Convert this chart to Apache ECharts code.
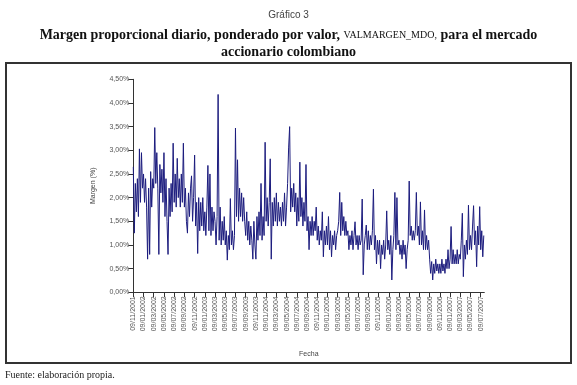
<!DOCTYPE html>
<html>
<head>
<meta charset="utf-8">
<script src="https://cdn.jsdelivr.net/npm/echarts@6/dist/echarts.min.js"></script>
<style>
html,body{margin:0;padding:0;background:#fff;}
#c{width:577px;height:385px;}
</style>
</head>
<body>
<div id="c"></div>
<script>
// Tick labels of the date axis (one every two months)
const xTickLabels = [
 "09/11/2001",
 "09/01/2002","09/03/2002","09/05/2002","09/07/2002","09/09/2002","09/11/2002",
 "09/01/2003","09/03/2003","09/05/2003","09/07/2003","09/09/2003","09/11/2003",
 "09/01/2004","09/03/2004","09/05/2004","09/07/2004","09/09/2004","09/11/2004",
 "09/01/2005","09/03/2005","09/05/2005","09/07/2005","09/09/2005","09/11/2005",
 "09/01/2006","09/03/2006","09/05/2006","09/07/2006","09/09/2006","09/11/2006",
 "09/01/2007","09/03/2007","09/05/2007","09/07/2007"
];
const m2001 = [2.65,1.25,2.3,1.7,2.4,1.6,3.03,1.9,2.95,2.2];
const m2002 = [
 2.5,1.9,2.4,1.8,0.70,2.2,0.8,2.55,1.8,2.4,
 2.2,3.48,2.3,2.95,2.2,0.8,2.7,2.1,2.6,1.9,
 2.95,1.6,2.4,1.5,0.8,2.2,1.6,2.3,1.7,3.15,
 1.9,2.5,1.8,2.83,2.0,2.4,1.8,2.5,1.9,3.15,
 1.8,2.2,1.5,1.25,2.1,1.6,2.2,2.46,1.5,2.0,
 2.9,1.4,1.9,0.82,2.0,1.3,1.9,1.4,2.0,1.3
];
const m2003 = [
 1.7,1.2,1.8,2.68,1.3,2.5,1.2,1.8,1.3,1.7,
 1.5,1.0,1.6,4.18,1.1,1.8,1.0,1.5,1.1,1.6,
 1.0,1.3,0.68,1.2,0.9,1.98,1.0,1.3,0.9,1.2,
 3.47,1.6,2.8,1.5,2.2,1.6,2.1,1.5,2.0,1.5,
 1.2,1.7,1.1,1.5,1.0,1.4,1.1,0.7,1.5,1.0,
 0.7,1.6,1.1,1.7,1.2,2.3,1.1,1.6,1.2,3.17
];
const m2004 = [
 1.5,2.0,1.4,1.9,2.82,0.7,1.9,1.4,2.0,1.5,
 2.1,1.4,1.9,1.5,1.8,1.4,1.9,1.5,2.1,1.4,
 1.8,2.3,3.05,3.5,1.7,2.2,1.8,2.3,1.7,2.1,
 1.4,2.0,1.5,2.75,1.6,2.0,1.4,1.9,1.5,2.7,
 1.3,1.6,0.9,1.5,1.2,1.6,1.2,1.5,1.3,1.8,
 1.1,1.4,1.0,1.3,1.1,1.7,0.75,1.3,1.0,1.4
];
const m2005 = [
 1.0,1.6,0.9,1.3,0.75,1.2,1.0,1.3,0.9,1.2,
 1.3,1.5,2.11,1.2,1.9,1.3,1.6,1.2,1.5,1.2,
 1.3,0.9,1.2,1.0,1.3,0.9,1.2,1.49,1.0,1.2,
 0.9,1.2,1.0,1.1,1.97,0.37,1.0,1.2,1.42,0.9,
 1.3,0.9,1.2,1.0,1.3,2.18,0.9,1.2,0.6,1.1,
 0.8,1.1,0.5,1.0,0.8,1.1,0.7,1.0,1.72,0.9
];
const m2006 = [
 1.1,0.8,1.2,0.26,0.9,1.2,2.11,0.9,2.0,1.0,
 1.1,0.8,1.0,0.7,1.1,0.8,1.0,0.5,0.9,1.1,
 2.35,1.2,1.4,1.1,1.3,1.1,1.3,2.11,1.2,1.4,
 1.0,1.91,1.0,1.3,0.9,1.74,0.9,1.2,0.9,1.1,
 0.7,0.4,0.65,0.26,0.6,0.4,0.7,0.45,0.6,0.4,
 0.6,0.4,0.7,0.45,0.6,0.4,0.7,0.5,0.9,0.5
];
const m2007 = [
 0.7,1.39,0.6,0.9,0.6,0.8,0.6,0.9,0.6,0.8,
 0.7,1.1,1.67,0.33,1.0,0.7,1.1,0.8,1.84,0.9,
 1.2,0.9,1.4,1.83,1.0,1.3,0.54,1.4,1.0,1.81,
 0.9,1.3,0.75,1.2
];
const stepMonths = 0.2;

const values = [].concat(m2001, m2002, m2003, m2004, m2005, m2006, m2007);
const seriesData = values.map((v, i) => [i * stepMonths, v]);
const tickVals = xTickLabels.map((_, i) => i * 2);

const chart = echarts.init(document.getElementById('c'), null, {renderer: 'canvas'});
const sans = 'Liberation Sans, Arial, sans-serif';
const serif = 'Liberation Serif, Times New Roman, serif';
chart.setOption({
  animation: false,
  backgroundColor: '#ffffff',
  title: [
    {text: 'Gráfico 3', left: 'center', top: 5,
     textStyle: {fontFamily: sans, fontSize: 10, fontWeight: 'normal', color: '#444'}},
    {text: '{b|Margen proporcional diario, ponderado por valor, }{s|VALMARGEN_MDO,}{b| para el mercado}',
     left: 'center', top: 22,
     textStyle: {rich: {
       b: {fontFamily: serif, fontSize: 14, fontWeight: 'bold', color: '#111', lineHeight: 17},
       s: {fontFamily: serif, fontSize: 10, fontWeight: 'normal', color: '#111', lineHeight: 17}
     }}},
    {text: 'accionario colombiano', left: 'center', top: 39,
     textStyle: {fontFamily: serif, fontSize: 14, fontWeight: 'bold', color: '#111', lineHeight: 17}}
  ],
  grid: {left: 133.3, right: 92.7, top: 79.3, bottom: 92.7, containLabel: false},
  xAxis: {
    type: 'value', min: 0, max: 68.7,
    name: 'Fecha', nameLocation: 'middle', nameGap: 58,
    nameTextStyle: {fontFamily: sans, fontSize: 7, color: '#444'},
    axisLine: {show: true, onZero: false, lineStyle: {color: '#333', width: 1}},
    axisTick: {show: true, customValues: tickVals, length: 5, lineStyle: {color: '#333'}},
    axisLabel: {customValues: tickVals, rotate: 90, fontFamily: sans, fontSize: 7, color: '#555', margin: 4,
      formatter: v => xTickLabels[Math.round(v / 2)] || ''},
    splitLine: {show: false}
  },
  yAxis: {
    type: 'value', min: 0, max: 4.5, interval: 0.5,
    name: 'Margen (%)', nameLocation: 'middle', nameGap: 37, nameRotate: 90,
    nameTextStyle: {fontFamily: sans, fontSize: 7, color: '#444'},
    axisLine: {show: true, lineStyle: {color: '#333', width: 1}},
    axisTick: {show: true, length: 5, lineStyle: {color: '#333'}},
    axisLabel: {fontFamily: sans, fontSize: 7, color: '#555', margin: 4,
      formatter: v => v.toFixed(2).replace('.', ',') + '%'},
    splitLine: {show: false}
  },
  series: [{
    type: 'line', data: seriesData, showSymbol: false, symbol: 'none',
    lineStyle: {color: '#1c1c7e', width: 1},
    emphasis: {disabled: true}
  }],
  graphic: [
    {type: 'rect', shape: {x: 6, y: 63, width: 565, height: 300},
     style: {fill: 'none', stroke: '#333', lineWidth: 2}, silent: true},
    {type: 'text', left: 5, top: 370,
     style: {text: 'Fuente: elaboración propia.', fontFamily: serif, fontSize: 10, fill: '#222'}}
  ]
});
</script>
</body>
</html>
